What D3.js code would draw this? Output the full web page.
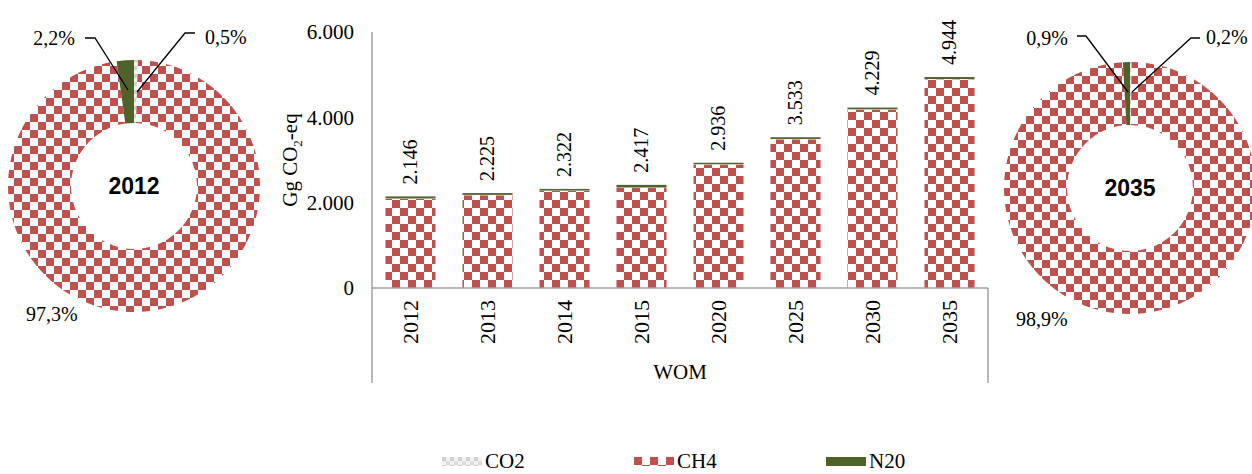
<!DOCTYPE html>
<html><head><meta charset="utf-8">
<script src="https://cdn.jsdelivr.net/npm/d3@7"></script>
<style>
html,body{margin:0;padding:0;background:#fff;}
svg{display:block;}
</style></head>
<body>
<svg id="c" width="1252" height="474" font-family="Liberation Serif, DejaVu Serif, serif"></svg>
<script>
// ---- data ----
const years = ["2012","2013","2014","2015","2020","2025","2030","2035"];
const totals = [2146, 2225, 2322, 2417, 2936, 3533, 4229, 4944];
const ch4 = [2088, 2173, 2274, 2347, 2892, 3484, 4180, 4889];
const co2 = [11, 10, 10, 10, 9, 9, 9, 10];
const n2o = [47, 42, 38, 60, 35, 40, 40, 45];
const yTicks = [0, 2000, 4000, 6000];
const gases = ["CO2", "CH4", "N20"];
const pie2012 = [0.5, 97.3, 2.2];   // CO2, CH4, N2O (%)
const pie2035 = [0.2, 98.9, 0.9];
const pieLabels2012 = ["0,5%", "97,3%", "2,2%"];
const pieLabels2035 = ["0,2%", "98,9%", "0,9%"];

const svg = d3.select("#c");
const defs = svg.append("defs");
const RED = "#C0504D", GREEN = "#4F6228";
const SERIF = "Liberation Serif, DejaVu Serif, serif";

// checker pattern (CH4)
const pc = defs.append("pattern").attr("id","chk").attr("patternUnits","userSpaceOnUse")
  .attr("width",16).attr("height",16);
pc.append("rect").attr("width",16).attr("height",16).attr("fill","#fff");
pc.append("rect").attr("x",0).attr("y",0).attr("width",8).attr("height",8).attr("fill",RED);
pc.append("rect").attr("x",8).attr("y",8).attr("width",8).attr("height",8).attr("fill",RED);
// dotted light pattern (CO2)
const pd = defs.append("pattern").attr("id","dot").attr("patternUnits","userSpaceOnUse")
  .attr("width",8).attr("height",8);
pd.append("rect").attr("width",8).attr("height",8).attr("fill","#f2f2f2");
pd.append("rect").attr("x",0).attr("y",0).attr("width",4).attr("height",4).attr("fill","#d0d0d0");
pd.append("rect").attr("x",4).attr("y",4).attr("width",4).attr("height",4).attr("fill","#dcdcdc");
const fills = ["url(#dot)", "url(#chk)", GREEN];

const loc = d3.formatLocale({decimal:",", thousands:".", grouping:[3], currency:["",""]});
const fmt = loc.format(",d");

// ---- bar chart ----
const x0 = 372, x1 = 988, yBase = 288, yTop = 32;
const x = d3.scaleBand().domain(years).range([x0, x1]).paddingInner(0.35).paddingOuter(0.175);
const y = d3.scaleLinear().domain([0, 6000]).range([yBase, yTop]);

const stackData = years.map((yr,i)=>({year:yr, CH4:ch4[i], CO2:co2[i], N20:n2o[i]}));
const series = d3.stack().keys(["CH4","CO2","N20"])(stackData);
const fillByKey = {CH4:"url(#chk)", CO2:"url(#dot)", N20:GREEN};

svg.append("g").selectAll("g").data(series).join("g")
  .attr("fill", d=>fillByKey[d.key])
  .selectAll("rect").data(d=>d).join("rect")
  .attr("x", d=>x(d.data.year))
  .attr("width", x.bandwidth())
  .attr("y", d=>y(d[1]))
  .attr("height", d=>Math.max(0, y(d[0]) - y(d[1])));

// axes lines
const axCol = "#a0a0a0";
svg.append("line").attr("x1",x0).attr("x2",x0).attr("y1",yTop).attr("y2",383).attr("stroke",axCol).attr("stroke-width",1.5);
svg.append("line").attr("x1",x0).attr("x2",x1).attr("y1",yBase).attr("y2",yBase).attr("stroke",axCol).attr("stroke-width",1.5);
svg.append("line").attr("x1",x1).attr("x2",x1).attr("y1",yBase).attr("y2",383).attr("stroke",axCol).attr("stroke-width",1.5);

// y tick labels
const yAxis = d3.axisLeft(y).tickValues(yTicks).tickFormat(fmt).tickSize(0).tickPadding(18);
const gy = svg.append("g").attr("transform",`translate(${x0},0)`).call(yAxis);
gy.select(".domain").remove();
gy.attr("font-family",SERIF).attr("font-size",21);
gy.selectAll("text").attr("fill","#000");

// y title
const yt = svg.append("text").attr("transform","translate(297,160) rotate(-90)")
  .attr("text-anchor","middle").attr("font-size",21);
yt.append("tspan").text("Gg CO");
yt.append("tspan").attr("font-size",13).attr("dy",5).text("2");
yt.append("tspan").attr("dy",-5).text("-eq");

// x labels
const xAxis = d3.axisBottom(x).tickSize(0).tickPadding(0);
const gx = svg.append("g").attr("transform",`translate(0,${yBase})`).call(xAxis);
gx.select(".domain").remove();
gx.attr("font-family",SERIF).attr("font-size",22);
gx.selectAll("text").attr("fill","#000")
  .attr("transform","rotate(-90)").attr("text-anchor","end")
  .attr("x",-12).attr("y",0).attr("dy","0.33em");

svg.append("text").attr("x",(x0+x1)/2).attr("y",379).attr("text-anchor","middle").attr("font-size",21).text("WOM");

// value labels
svg.append("g").selectAll("text").data(years).join("text")
  .attr("transform",(d,i)=>`translate(${x(d)+x.bandwidth()/2},${y(totals[i])-12}) rotate(-90)`)
  .attr("text-anchor","start").attr("dy","0.33em").attr("font-size",20)
  .text((d,i)=>fmt(totals[i]));

// ---- donuts ----
function donut(cx, cy, vals, title, labels, lab) {
  const g = svg.append("g").attr("transform",`translate(${cx},${cy})`);
  const arcs = d3.pie().sort(null)(vals);
  const arc = d3.arc().innerRadius(63).outerRadius(126);
  g.selectAll("path").data(arcs).join("path").attr("d",arc).attr("fill",(d,i)=>fills[i]);
  g.append("text").attr("text-anchor","middle").attr("dy","0.36em")
    .attr("font-family","Liberation Sans, Arial, sans-serif").attr("font-weight","bold").attr("font-size",23).text(title);
  lab.forEach(l=>{
    if (l.line) svg.append("polyline").attr("points",l.line.map(p=>p.join(",")).join(" "))
      .attr("fill","none").attr("stroke","#000").attr("stroke-width",1.3);
    svg.append("text").attr("x",l.x).attr("y",l.y).attr("text-anchor",l.anchor).attr("dy","0.35em")
      .attr("font-size",20).text(labels[l.i]);
  });
}
donut(134, 186, pie2012, "2012", pieLabels2012, [
  {i:2, x:75, y:38, anchor:"end", line:[[85,38],[95,38],[128,90]]},
  {i:0, x:205, y:37, anchor:"start", line:[[195,33],[185,33],[137,92]]},
  {i:1, x:26, y:314, anchor:"start"}
]);
donut(1130, 188, pie2035, "2035", pieLabels2035, [
  {i:2, x:1068, y:38, anchor:"end", line:[[1077,36],[1086,36],[1128,92]]},
  {i:0, x:1206, y:37, anchor:"start", line:[[1200,38],[1191,38],[1132,92]]},
  {i:1, x:1016, y:319, anchor:"start"}
]);

// ---- legend ----
const legX = [442, 634, 826];
const lg = svg.append("g").selectAll("g").data(gases).join("g")
  .attr("transform",(d,i)=>`translate(${legX[i]},457)`);
lg.append("rect").attr("width",40).attr("height",9).attr("fill",(d,i)=>fills[i]);
lg.append("text").attr("x",43).attr("y",4).attr("dy","0.35em").attr("font-size",21).text(d=>d);
</script>
</body></html>
